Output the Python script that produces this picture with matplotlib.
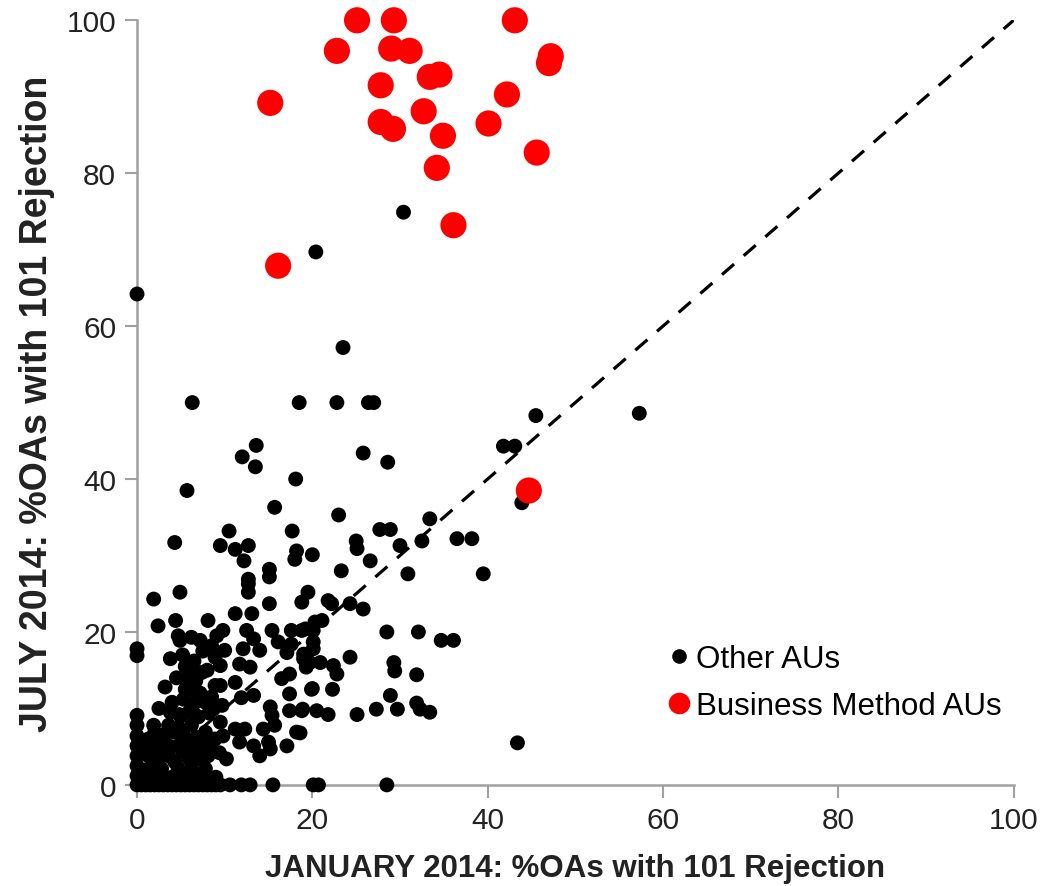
import matplotlib as mpl
mpl.use("Agg")
import matplotlib.pyplot as plt
from matplotlib.lines import Line2D

mpl.rcParams["font.family"] = ["Liberation Sans", "DejaVu Sans"]

# Business Method AUs (red)
bm_jan = [25.1, 29.3, 43.1, 22.8, 29.0, 31.1, 47.2, 47.0, 33.4, 34.5, 27.8, 42.2,
          15.2, 32.7, 27.8, 29.2, 40.1, 34.9, 45.6, 34.2, 36.1, 16.1, 44.7]
bm_jul = [100.0, 100.0, 100.0, 96.0, 96.3, 96.0, 95.3, 94.4, 92.6, 92.9, 91.5, 90.3,
          89.2, 88.1, 86.7, 85.8, 86.5, 84.9, 82.7, 80.7, 73.2, 67.9, 38.5]

# Other AUs (black)
other_jan = [
    0.0, 20.4, 30.4, 23.5,
    6.3, 18.5, 22.8, 26.4, 27.0, 45.5, 57.3,
    13.6, 12.0, 13.5, 25.8, 28.6, 41.8, 43.1,
    18.1, 5.7, 43.9, 15.7, 23.0, 33.4,
    10.5, 17.7, 27.7, 28.9, 25.0, 25.1, 30.0, 32.5, 36.5, 38.2,
    4.3, 9.5, 11.2, 12.7, 12.2, 18.2, 18.0, 20.0, 26.6,
    15.1, 15.1, 12.7, 23.3, 30.9, 39.5,
    4.9, 1.9, 12.7, 12.7, 19.5,
    21.8, 22.2, 24.3, 25.8, 18.8, 15.1,
    20.3, 21.1, 20.1, 18.8, 28.5, 32.1, 34.7, 36.1, 20.1,
    19.0, 19.7, 20.9, 22.4, 24.3, 22.8, 29.3, 29.4, 31.9,
    20.0, 22.3, 28.9, 18.9, 20.5, 21.8, 25.1, 27.3, 29.7, 31.9, 32.3, 33.4,
    18.6, 43.4,
    20.1, 20.7, 28.5, 15.5, 11.9, 12.9, 10.6,
    0.0, 0.5, 1.0, 1.5, 2.0, 2.5, 3.0, 3.5, 4.0, 4.5,
    5.0, 5.5, 6.0, 6.5, 7.0, 7.5, 8.0, 8.5, 9.0, 9.5,
    2.4, 4.4, 8.1, 0.0, 0.0, 4.7, 4.9, 6.2, 7.2, 8.5, 9.1, 8.9, 6.2, 7.4,
    3.2, 5.5, 6.2, 8.9, 4.0, 5.3, 6.6, 7.8, 8.7,
    0.0, 0.0, 1.9, 3.6, 4.7, 6.2, 7.8,
    0.0, 0.0, 0.0, 0.0, 0.0,
    1.3, 2.4, 3.6, 4.7, 5.9, 7.0,
    1.3, 2.4, 3.6, 4.3, 5.9, 7.0, 8.1,
    1.3, 2.8, 4.7, 6.2, 7.8,
    11.2, 13.1, 9.8, 12.5, 15.4, 17.6, 19.2, 13.3, 16.1, 17.6,
    10.0, 12.1, 14.0, 17.1, 19.0, 20.1, 9.5, 11.7, 12.9, 19.3,
    11.2, 16.5, 17.4, 9.5, 19.9, 11.9, 13.3, 17.4, 15.2, 15.4, 17.4, 18.8,
    9.7, 9.5, 11.2, 12.3, 14.4, 15.7, 18.2, 9.8, 11.7, 13.3, 15.0, 17.1,
    14.0, 15.2, 10.2,
    3.8, 5.2, 6.5, 7.5, 4.5, 5.5, 8.0, 3.8, 5.0, 6.5, 2.5, 7.2, 8.5,
    1.0, 2.0, 3.0, 4.0, 5.0, 6.0, 7.0, 8.0, 9.0,
    0.8, 1.8, 2.9, 5.2, 6.4, 8.6, 9.4,
    2.0, 3.1, 4.2, 5.3, 6.8, 7.9, 8.9,
    4.8, 6.0, 7.0, 8.2, 5.6, 6.7,
]
other_jul = [
    64.2, 69.7, 74.9, 57.2,
    50.0, 50.0, 50.0, 50.0, 50.0, 48.3, 48.6,
    44.4, 42.9, 41.6, 43.4, 42.2, 44.3, 44.3,
    40.0, 38.5, 36.9, 36.3, 35.3, 34.8,
    33.2, 33.2, 33.4, 33.4, 31.9, 30.9, 31.3, 31.9, 32.2, 32.2,
    31.7, 31.3, 30.8, 31.3, 29.3, 30.6, 29.5, 30.1, 29.3,
    28.2, 27.2, 26.9, 28.0, 27.6, 27.6,
    25.2, 24.3, 26.3, 25.2, 25.2,
    24.1, 23.7, 23.7, 23.0, 23.9, 23.7,
    21.3, 21.5, 20.2, 20.2, 20.0, 20.0, 18.9, 18.9, 18.7,
    16.5, 16.0, 16.0, 15.6, 16.7, 14.5, 16.0, 14.9, 14.4,
    12.6, 12.5, 11.7, 9.9, 9.7, 9.2, 9.2, 9.9, 9.9, 10.7, 9.9, 9.5,
    6.8, 5.5,
    0.0, 0.0, 0.0, 0.0, 0.0, 0.0, 0.0,
    0.0, 0.0, 0.0, 0.0, 0.0, 0.0, 0.0, 0.0, 0.0, 0.0,
    0.0, 0.0, 0.0, 0.0, 0.0, 0.0, 0.0, 0.0, 0.0, 0.0,
    20.8, 21.5, 21.5, 17.8, 16.9, 19.5, 18.9, 19.3, 18.9, 18.2, 19.5, 16.7, 14.9, 14.7,
    12.8, 12.5, 12.5, 13.0, 10.8, 11.2, 10.8, 10.8, 9.9,
    9.1, 7.8, 7.8, 7.8, 7.5, 7.8, 6.9,
    6.4, 5.1, 3.8, 2.5, 1.2,
    6.0, 5.6, 5.1, 5.1, 5.6, 4.7,
    3.8, 3.4, 3.8, 3.0, 3.4, 3.4, 3.8,
    2.1, 2.1, 2.1, 2.1, 2.1,
    22.4, 22.4, 20.2, 20.2, 20.2, 20.2, 20.4, 19.1, 18.7, 18.4,
    17.6, 17.8, 17.6, 17.3, 17.1, 17.8, 15.6, 15.8, 15.4, 15.4,
    13.4, 13.9, 14.5, 13.0, 12.5, 11.4, 11.7, 11.9, 10.2, 9.1, 9.7, 9.7,
    10.4, 8.2, 7.3, 7.3, 7.3, 7.8, 6.9, 6.4, 5.6, 5.1, 5.6, 5.1,
    3.8, 4.7, 3.4,
    16.5, 17.0, 16.2, 17.5, 14.0, 15.5, 15.0, 9.5, 9.0, 9.3, 10.0, 12.0, 11.5,
    1.0, 1.0, 1.0, 1.0, 1.0, 1.0, 1.0, 1.0, 1.0,
    4.5, 4.5, 4.5, 4.3, 4.4, 4.6, 4.2,
    6.8, 6.6, 6.9, 6.5, 6.2, 5.8, 6.0,
    9.2, 9.6, 8.9, 9.4, 13.8, 13.6,
]

ticks = [0, 20, 40, 60, 80, 100]

fig = plt.figure(figsize=(10.46, 8.87), dpi=100)
ax = fig.add_axes([0.131, 0.114, 0.838, 0.862])

ax.plot([0, 100], [0, 100], color="black", lw=2.3, ls=(0, (5, 4)), zorder=2)
ax.scatter(other_jan, other_jul, s=115, color="black", edgecolors="none",
           zorder=3, clip_on=False)
ax.scatter(bm_jan, bm_jul, s=355, color="#ff0000", edgecolors="none",
           zorder=4, clip_on=False)

ax.set_xlim(0, 100)
ax.set_ylim(0, 100)
ax.set_xticks(ticks)
ax.set_yticks(ticks)
ax.tick_params(labelsize=21.5, length=9, width=1.5, color="#a0a0a0",
               labelcolor="#222222", pad=6)
for s in ["top", "right"]:
    ax.spines[s].set_visible(False)
for s in ["left", "bottom"]:
    ax.spines[s].set_color("#a0a0a0")
    ax.spines[s].set_linewidth(1.8)

ax.set_xlabel("JANUARY 2014: %OAs with 101 Rejection", fontsize=22.5,
              fontweight="bold", color="#222222", labelpad=14)
ax.set_ylabel("JULY 2014: %OAs with 101 Rejection", fontsize=27,
              fontweight="bold", color="#222222", labelpad=8)

handles = [
    Line2D([], [], ls="none", marker="o", color="black", markersize=9.5),
    Line2D([], [], ls="none", marker="o", color="#ff0000", markersize=14.5),
]
ax.legend(handles, ["Other AUs", "Business Method AUs"], loc="upper left",
          bbox_to_anchor=(0.593, 0.201), frameon=False, fontsize=22.5,
          handlelength=0.6, handletextpad=0.25, labelspacing=0.55,
          borderaxespad=0)

fig.savefig("out.png", dpi=100)
